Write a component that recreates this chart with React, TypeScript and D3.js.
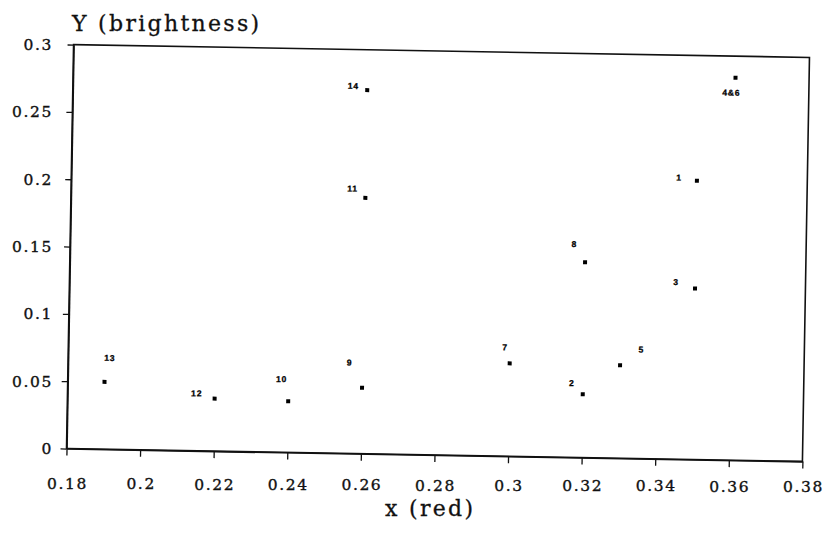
import { useEffect, useRef } from 'react';
import * as d3 from 'd3';

/**
 * Scanned scatter of colour samples: x (red) vs Y (brightness).
 * The original page was scanned slightly crooked, so the frame is tilted ~1deg.
 */

const pointLabels = ['1', '2', '3', '4&6', '5', '8', '7', '9', '10', '11', '12', '13', '14'];
const xRed = [0.35, 0.32, 0.35, 0.36, 0.33, 0.32, 0.30, 0.26, 0.24, 0.26, 0.22, 0.19, 0.26];
const yBright = [0.207, 0.047, 0.127, 0.284, 0.069, 0.145, 0.069, 0.049, 0.038, 0.19, 0.039, 0.05, 0.27];

const xTicks = [0.18, 0.2, 0.22, 0.24, 0.26, 0.28, 0.3, 0.32, 0.34, 0.36, 0.38];
const yTicks = [0, 0.05, 0.1, 0.15, 0.2, 0.25, 0.3];

// label nudges relative to each marker (px)
const labelOffsets: [number, number][] = [
  [-18, -3], [-11, -11], [-19, -6], [-4, 15], [21, -16], [-11, -18], [-5, -16],
  [-13, -25], [-7, -22], [-13, -9], [-18, -5], [5, -24], [-14, -4],
];

const W = 827;
const H = 534;
const SERIF = '"DejaVu Serif", serif';

export default function App() {
  const svgRef = useRef<SVGSVGElement>(null);

  useEffect(() => {
    if (!svgRef.current) return;
    const svg = d3.select(svgRef.current);
    svg.selectAll('*').remove();

    const left = 70, right = 806, top = 51, bottom = 455;
    const cx = (left + right) / 2, cy = (top + bottom) / 2;
    const angle = 1;
    const rad = (angle * Math.PI) / 180;
    const rot = (px: number, py: number): [number, number] => {
      const dx = px - cx, dy = py - cy;
      return [cx + dx * Math.cos(rad) - dy * Math.sin(rad), cy + dx * Math.sin(rad) + dy * Math.cos(rad)];
    };

    const x = d3.scaleLinear().domain([0.18, 0.38]).range([left, right]);
    const y = d3.scaleLinear().domain([0, 0.3]).range([bottom, top]);

    svg.append('rect').attr('width', W).attr('height', H).attr('fill', '#fff');

    const g = svg.append('g').attr('transform', `rotate(${angle},${cx},${cy})`);

    // frame
    g.append('rect')
      .attr('x', left).attr('y', top)
      .attr('width', right - left).attr('height', bottom - top)
      .attr('fill', 'none').attr('stroke', '#111').attr('stroke-width', 1.6);

    // ticks only; labels are drawn upright below
    const xAxis = g.append('g')
      .attr('transform', `translate(0,${bottom})`)
      .call(d3.axisBottom(x).tickValues(xTicks).tickSize(7).tickSizeOuter(0).tickFormat(() => ''));
    const yAxis = g.append('g')
      .attr('transform', `translate(${left},0)`)
      .call(d3.axisLeft(y).tickValues(yTicks).tickSize(6).tickSizeOuter(0).tickFormat(() => ''));
    [xAxis, yAxis].forEach((a) => {
      a.select('.domain').attr('stroke', '#111').attr('stroke-width', 1.6);
      a.selectAll('.tick line').attr('stroke', '#111').attr('stroke-width', 1.3);
    });

    // markers + labels
    const pts = pointLabels.map((label, i) => ({ label, xv: xRed[i], yv: yBright[i], off: labelOffsets[i] }));
    g.selectAll('rect.pt')
      .data(pts)
      .join('rect')
      .attr('class', 'pt')
      .attr('x', (d) => x(d.xv) - 2)
      .attr('y', (d) => y(d.yv) - 2)
      .attr('width', 4)
      .attr('height', 4)
      .attr('fill', '#000');

    g.selectAll('text.pl')
      .data(pts)
      .join('text')
      .attr('class', 'pl')
      .attr('x', (d) => x(d.xv) + d.off[0])
      .attr('y', (d) => y(d.yv) + d.off[1])
      .attr('text-anchor', 'middle')
      .attr('dominant-baseline', 'central')
      .attr('font-family', '"Liberation Sans", Arial, sans-serif')
      .attr('font-weight', 'bold')
      .attr('font-size', 8.5)
      .attr('letter-spacing', 0.8)
      .attr('fill', '#000')
      .attr('stroke', '#000')
      .attr('stroke-width', 0.3)
      .text((d) => d.label);

    // upright tick labels
    svg.append('g')
      .selectAll('text')
      .data(xTicks)
      .join('text')
      .attr('x', (d) => rot(x(d), bottom)[0] + 1)
      .attr('y', (d, i) => 489 + (i / (xTicks.length - 1)) * 3)
      .attr('text-anchor', 'middle')
      .attr('font-family', SERIF)
      .attr('font-size', 15.5)
      .attr('letter-spacing', 1.6)
      .attr('fill', '#111')
      .attr('stroke', '#111')
      .attr('stroke-width', 0.35)
      .text((d) => String(d));

    svg.append('g')
      .selectAll('text')
      .data(yTicks)
      .join('text')
      .attr('x', 53)
      .attr('y', (d) => rot(left, y(d))[1] + 5.5)
      .attr('text-anchor', 'end')
      .attr('font-family', SERIF)
      .attr('font-size', 15.5)
      .attr('letter-spacing', 1.6)
      .attr('fill', '#111')
      .attr('stroke', '#111')
      .attr('stroke-width', 0.35)
      .text((d) => String(d));

    // axis titles
    svg.append('text')
      .attr('x', 72).attr('y', 31)
      .attr('font-family', SERIF).attr('font-size', 22).attr('letter-spacing', 2.3)
      .attr('fill', '#111').attr('stroke', '#111').attr('stroke-width', 0.3)
      .text('Y (brightness)');

    svg.append('text')
      .attr('x', 385).attr('y', 516)
      .attr('font-family', SERIF).attr('font-size', 22).attr('letter-spacing', 2.3)
      .attr('fill', '#111').attr('stroke', '#111').attr('stroke-width', 0.3)
      .text('x (red)');
  }, []);

  return (
    <svg
      ref={svgRef}
      width={W}
      height={H}
      style={{ display: 'block', position: 'absolute', left: 0, top: 0 }}
    />
  );
}
